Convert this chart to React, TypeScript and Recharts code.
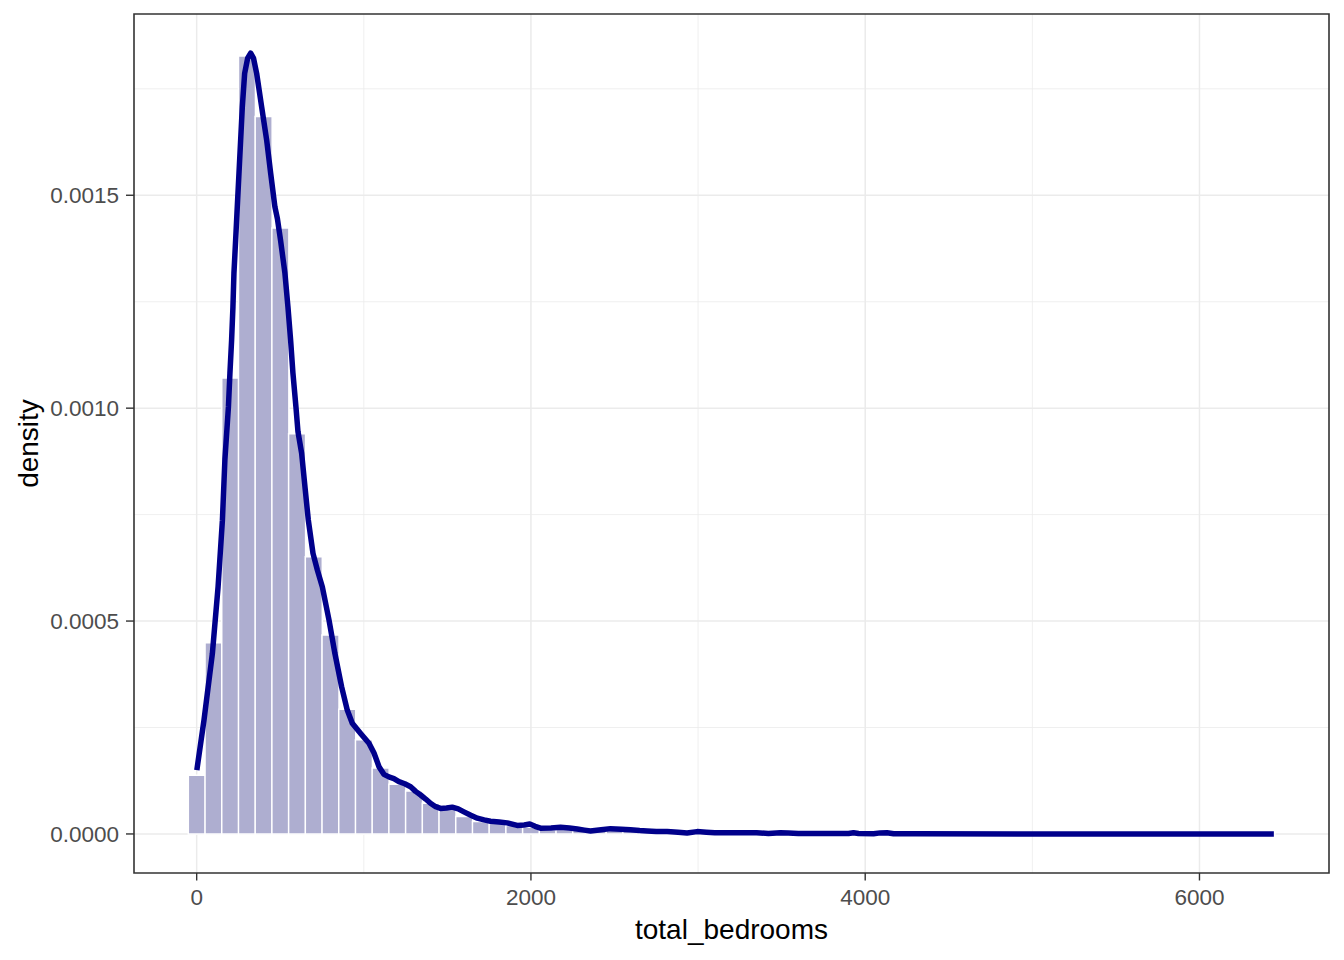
import React from 'react';
import {
  ComposedChart,
  Bar,
  Line,
  XAxis,
  YAxis,
  CartesianGrid,
  ReferenceArea,
} from 'recharts';

// Histogram bins (centres, width 100) and their densities
const binCenters = [
  0, 100, 200, 300, 400, 500, 600, 700, 800, 900,
  1000, 1100, 1200, 1300, 1400, 1500, 1600, 1700, 1800, 1900,
  2000, 2100, 2200, 2300, 2400, 2500, 2600, 2700, 2800, 2900,
  3000, 3100, 3200, 3300, 3400, 3500, 3600, 3700, 3800, 3900,
  4000, 4100, 4200, 4300, 4400, 4500, 4600, 4700, 4800, 4900,
  5000, 5100, 5200, 5300, 5400, 5500, 5600, 5700, 5800, 5900,
  6000, 6100, 6200, 6300, 6400,
];
const binDensity = [
  0.000138, 0.000449, 0.001071, 0.001827, 0.001685, 0.001423, 0.00094, 0.000651, 0.000467, 0.000293,
  0.000221, 0.000155, 0.000117, 0.000101, 0.000072, 0.00006, 0.000041, 0.000029, 0.000025, 0.00002,
  0.000016, 0.00001, 0.000016, 0.000012, 0.000007, 0.000012, 0.000009, 0.000007, 0.000006, 0.000004,
  0.000005, 0.000003, 0.000003, 0.000003, 0.000002, 0.000003, 0.000001, 0.000001, 0.000001, 0.000002,
  0.000001, 0.000003, 0.0000005, 0.0000003, 0, 0.0000002, 0, 0, 0.0000002, 0,
  0, 0, 0, 0, 0.0000002, 0, 0, 0, 0, 0,
  0, 0, 0.0000002, 0, 0.0000002,
];

// Kernel density curve
const curveX = [
  1, 44, 94, 128, 154, 169, 190, 199, 209, 217,
  223, 233, 243, 253, 263, 273, 287, 305, 323, 340,
  359, 389, 419, 443, 468, 483, 502, 528, 546, 562,
  576, 594, 606, 628, 648, 668, 696, 722, 752, 792,
  827, 867, 901, 931, 981, 1031, 1061, 1091, 1120, 1150,
  1180, 1210, 1245, 1280, 1310, 1340, 1370, 1399, 1430, 1459,
  1495, 1529, 1565, 1599, 1640, 1679, 1720, 1758, 1810, 1858,
  1918, 1960, 1993, 2025, 2057, 2120, 2177, 2230, 2277, 2320,
  2356, 2420, 2476, 2540, 2595, 2650, 2695, 2750, 2815, 2880,
  2934, 2994, 3050, 3100, 3250, 3350, 3421, 3492, 3540, 3600,
  3700, 3800, 3900, 3930, 3960, 4050, 4090, 4130, 4170, 4300,
  5000, 6000, 6445,
];
const curveY = [
  0.00015, 0.000268, 0.000424, 0.00058, 0.000737, 0.00088, 0.001003, 0.001082, 0.00116, 0.001238,
  0.001317, 0.001394, 0.001473, 0.001551, 0.001629, 0.001707, 0.001786, 0.001822, 0.001834, 0.001822,
  0.001786, 0.001707, 0.001629, 0.001551, 0.001473, 0.001445, 0.001394, 0.001317, 0.001238, 0.00116,
  0.001082, 0.001003, 0.000945, 0.000894, 0.000815, 0.000737, 0.000659, 0.00062, 0.00058, 0.000502,
  0.000424, 0.000346, 0.000291, 0.00026, 0.000236, 0.000213, 0.00019, 0.000158, 0.00014, 0.000134,
  0.00013, 0.000123, 0.000118, 0.000111, 0.0001, 0.0000915, 0.000082, 0.000072, 0.000064, 0.00006,
  0.000061, 0.000063, 0.000059, 0.000052, 0.000044, 0.000037, 0.000033, 0.00003, 0.000028, 0.000026,
  0.00002, 0.000021, 0.0000235, 0.000018, 0.0000135, 0.000014, 0.0000157, 0.000014, 0.0000117, 0.000009,
  0.000007, 0.00001, 0.0000125, 0.000011, 0.00001, 0.000008, 0.000007, 0.000006, 0.0000055, 0.000004,
  0.0000023, 0.0000055, 0.000004, 0.000003, 0.000003, 0.000003, 0.000001, 0.000003, 0.000002, 0.000001,
  0.000001, 0.0000008, 0.000001, 0.000003, 0.000001, 0.0000005, 0.0000025, 0.000003, 0.0000005, 0.0000002,
  0.0000001, 0.0000001, 0.0000001,
];

// Axis breaks
const xMajorBreaks = [0, 2000, 4000, 6000];
const xMinorBreaks = [1000, 3000, 5000];
const yMajorBreaks = [0, 0.0005, 0.001, 0.0015];
const yMinorBreaks = [0.00025, 0.00075, 0.00125, 0.00175];
const xDomain: [number, number] = [-375, 6775];
const yDomain: [number, number] = [-0.0000917, 0.0019257];

const histData = binCenters.map((x, i) => ({ x, density: binDensity[i] }));
const curveData = curveX.map((x, i) => ({ x, density: curveY[i] }));

const FONT = '"Liberation Sans", Arial, Helvetica, sans-serif';

export default function App() {
  return (
    <div
      style={{
        position: 'absolute',
        left: 0,
        top: 0,
        width: 1344,
        height: 960,
        background: '#ffffff',
      }}
    >
      <ComposedChart
        width={1344}
        height={960}
        data={histData}
        margin={{ top: 14, right: 15, bottom: 0, left: 0 }}
        barCategoryGap={0}
        barGap={0}
        style={{ fontFamily: FONT }}
      >
        <XAxis
          xAxisId="main"
          dataKey="x"
          type="number"
          domain={xDomain}
          allowDataOverflow
          ticks={xMajorBreaks}
          height={87}
          axisLine={false}
          tickSize={7.5}
          tickMargin={9}
          tickLine={{ stroke: '#333333', strokeWidth: 1.4 }}
          tick={{ fill: '#4D4D4D', fontSize: 22.5, fontFamily: FONT }}
          label={{
            value: 'total_bedrooms',
            position: 'insideBottom',
            offset: 21,
            fill: '#000000',
            fontSize: 28,
            fontFamily: FONT,
          }}
        />
        <XAxis
          xAxisId="bins"
          dataKey="x"
          type="number"
          domain={xDomain}
          allowDataOverflow
          height={0}
          hide
        />
        <YAxis
          yAxisId="y"
          type="number"
          domain={yDomain}
          allowDataOverflow
          ticks={yMajorBreaks}
          tickFormatter={(v: number) => v.toFixed(4)}
          width={134}
          axisLine={false}
          tickSize={8}
          tickMargin={7}
          tickLine={{ stroke: '#333333', strokeWidth: 1.4 }}
          tick={{ fill: '#4D4D4D', fontSize: 22.5, fontFamily: FONT }}
          label={{
            value: 'density',
            angle: -90,
            position: 'insideLeft',
            offset: 28,
            fill: '#000000',
            fontSize: 28,
            fontFamily: FONT,
            style: { textAnchor: 'middle' },
          }}
        />
        <CartesianGrid
          xAxisId="main"
          yAxisId="y"
          verticalValues={xMinorBreaks}
          horizontalValues={yMinorBreaks}
          stroke="#EBEBEB"
          strokeWidth={0.8}
          fill="none"
        />
        <CartesianGrid
          xAxisId="main"
          yAxisId="y"
          verticalValues={xMajorBreaks}
          horizontalValues={yMajorBreaks}
          stroke="#EBEBEB"
          strokeWidth={1.5}
          fill="none"
        />
        <Bar
          xAxisId="bins"
          yAxisId="y"
          dataKey="density"
          fill="#AEAED0"
          stroke="#FFFFFF"
          strokeWidth={1.5}
          isAnimationActive={false}
        />
        <Line
          xAxisId="main"
          yAxisId="y"
          data={curveData}
          dataKey="density"
          type="linear"
          stroke="#00008B"
          strokeWidth={5.5}
          strokeLinejoin="round"
          strokeLinecap="butt"
          dot={false}
          activeDot={false}
          isAnimationActive={false}
        />
        <ReferenceArea
          xAxisId="main"
          yAxisId="y"
          x1={xDomain[0]}
          x2={xDomain[1]}
          y1={yDomain[0]}
          y2={yDomain[1]}
          fill="none"
          fillOpacity={0}
          stroke="#333333"
          strokeWidth={1.6}
          ifOverflow="visible"
        />
      </ComposedChart>
    </div>
  );
}
